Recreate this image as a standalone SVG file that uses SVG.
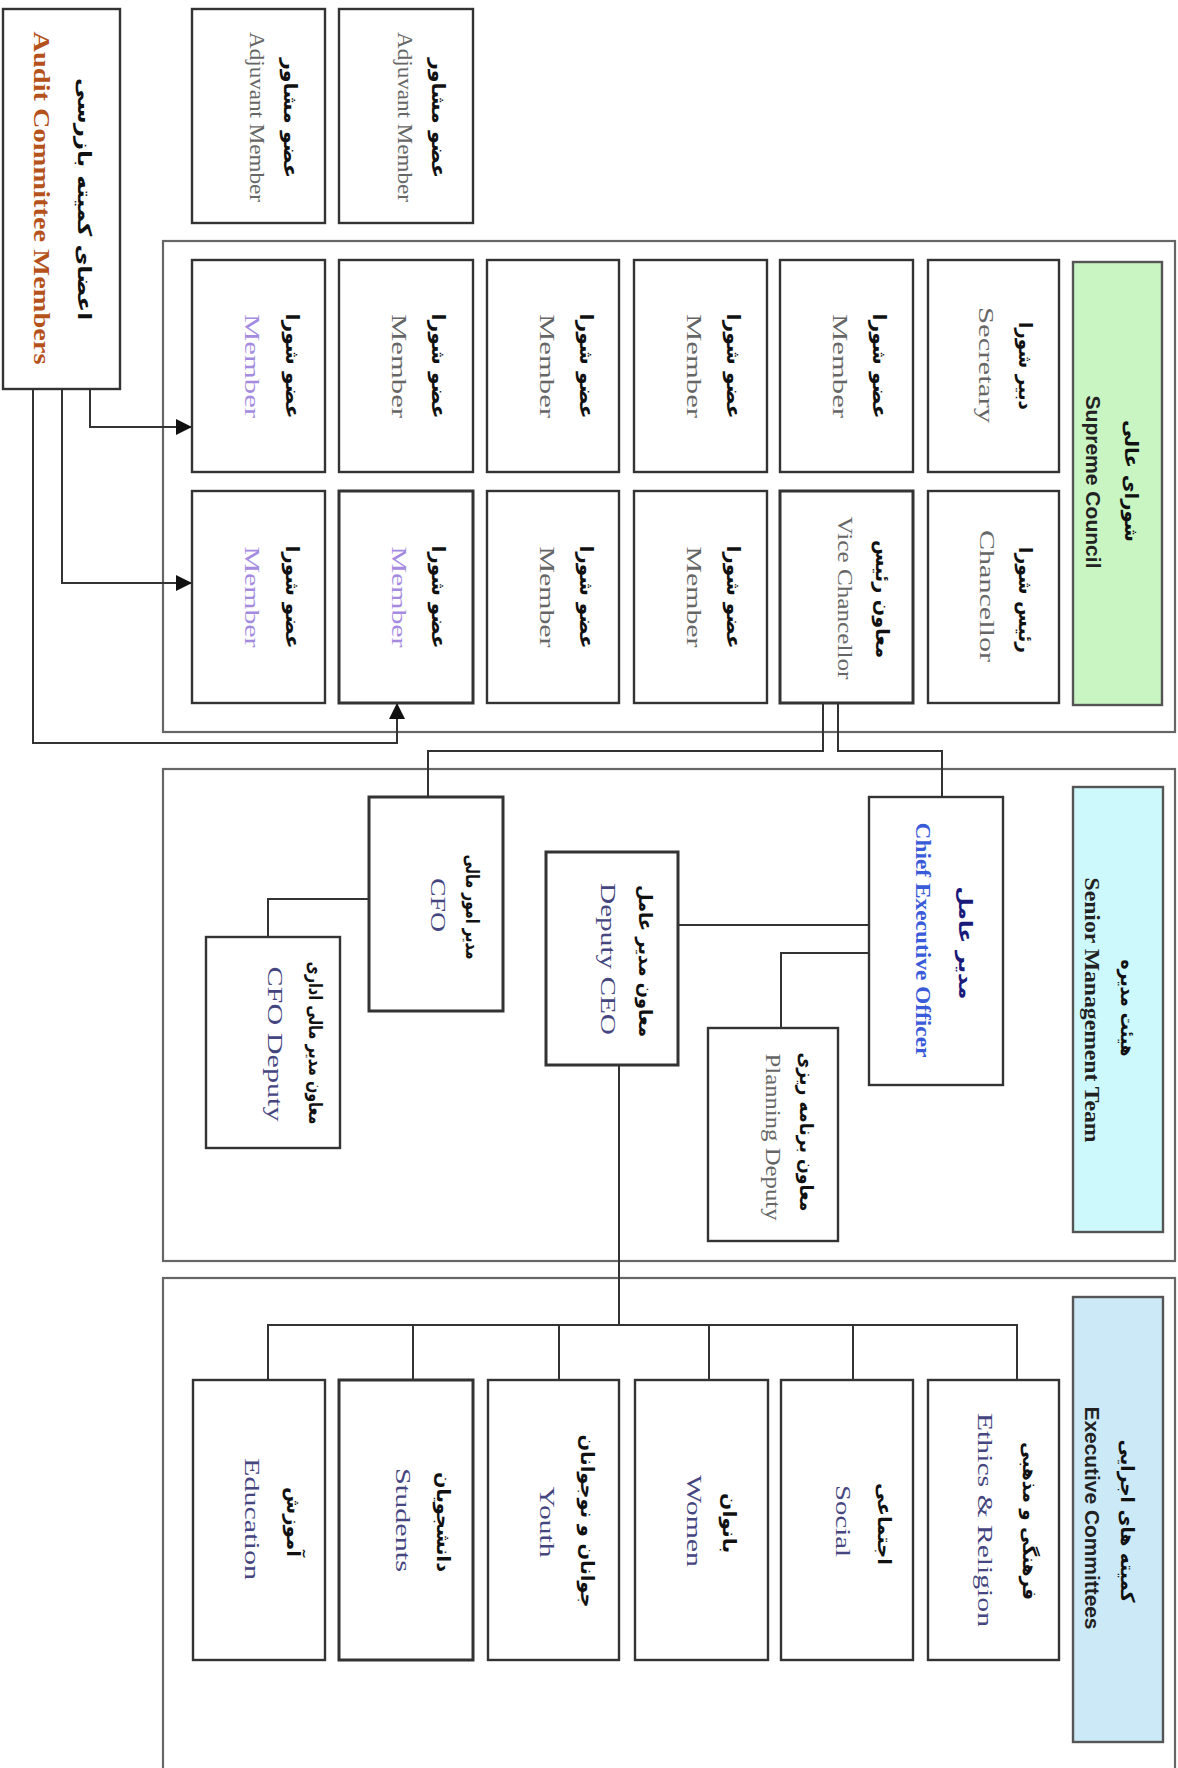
<svg xmlns="http://www.w3.org/2000/svg" width="1178" height="1768" viewBox="0 0 1178 1768">
<style>
.box{fill:#fff;stroke:#333;stroke-width:2.4}
.thick{stroke-width:3}
.cont{fill:#fff;stroke:#666;stroke-width:2.2}
.hg{fill:#c9f5c3;stroke:#555;stroke-width:2.4}
.hc{fill:#cdf9fc;stroke:#555;stroke-width:2.4}
.hb{fill:#cce9f8;stroke:#555;stroke-width:2.4}
.fa{font-family:"DejaVu Sans",sans-serif;font-weight:bold;font-size:19px;fill:#111}
.en{font-family:"Liberation Serif",serif;font-size:22px;fill:#666}
.pu{fill:#a58be0}
.sl{fill:#45457f}
.hd{font-family:"Liberation Sans",sans-serif;font-weight:bold;font-size:20px;fill:#222}
.conn{fill:none;stroke:#333;stroke-width:2}
</style>
<defs>
<marker id="arr" markerWidth="16" markerHeight="16" refX="16" refY="8" orient="auto" markerUnits="userSpaceOnUse">
<path d="M0,0 L16,8 L0,16 z" fill="#111"/>
</marker>
</defs>
<rect width="1178" height="1768" fill="#fff"/>

<!-- containers -->
<g id="supreme-council">
<rect class="cont" x="163" y="241" width="1012" height="491"/>
</g>
<g id="senior-management">
<rect class="cont" x="163" y="769" width="1012" height="492"/>
</g>
<g id="executive-committees">
<rect class="cont" x="163" y="1278" width="1012" height="520"/>
</g>

<!-- connectors -->
<g id="connectors">
<path class="conn" d="M90,389 V427 H192" marker-end="url(#arr)"/>
<path class="conn" d="M62,389 V583 H192" marker-end="url(#arr)"/>
<path class="conn" d="M33,389 V743 H397 V703" marker-end="url(#arr)"/>
<path class="conn" d="M823,703 V751 H428 V797"/>
<path class="conn" d="M838,703 V751 H942 V797"/>
<path class="conn" d="M869,925 H678"/>
<path class="conn" d="M869,953 H781 V1028"/>
<path class="conn" d="M369,899 H268 V937"/>
<path class="conn" d="M619,1065 V1325"/>
<path class="conn" d="M268,1380 V1325 H1017 V1380"/>
<path class="conn" d="M413,1325 V1380"/>
<path class="conn" d="M559,1325 V1380"/>
<path class="conn" d="M709,1325 V1380"/>
<path class="conn" d="M853,1325 V1380"/>
</g>

<!-- audit & adjuvant -->
<g id="audit-committee">
<rect class="box" x="3" y="9" width="117" height="380"/>
<text class="fa" transform="translate(78,199) rotate(90)" text-anchor="middle" textLength="242" lengthAdjust="spacingAndGlyphs">اعضای کمیته بازرسی</text>
<text transform="translate(34,198) rotate(90)" text-anchor="middle" textLength="333" lengthAdjust="spacingAndGlyphs" style="font-family:'Liberation Serif',serif;font-weight:bold;font-size:23px;fill:#b5521b">Audit Committee Members</text>
</g>
<g id="adjuvant-1">
<rect class="box" x="192" y="9" width="133" height="214"/>
<text class="fa" transform="translate(284,118) rotate(90)" text-anchor="middle" textLength="120" lengthAdjust="spacingAndGlyphs">عضو مشاور</text>
<text class="en" transform="translate(250,117) rotate(90)" text-anchor="middle" textLength="170" lengthAdjust="spacingAndGlyphs">Adjuvant Member</text>
</g>
<g id="adjuvant-2">
<rect class="box" x="339" y="9" width="134" height="214"/>
<text class="fa" transform="translate(432,118) rotate(90)" text-anchor="middle" textLength="120" lengthAdjust="spacingAndGlyphs">عضو مشاور</text>
<text class="en" transform="translate(398,117) rotate(90)" text-anchor="middle" textLength="170" lengthAdjust="spacingAndGlyphs">Adjuvant Member</text>
</g>

<!-- supreme council nodes -->
<g id="sc-header">
<rect class="hg" x="1073" y="262" width="89" height="443"/>
<text class="fa" transform="translate(1125,481) rotate(90)" text-anchor="middle" textLength="122" lengthAdjust="spacingAndGlyphs">شورای عالی</text>
<text class="hd" transform="translate(1086,482) rotate(90)" text-anchor="middle" textLength="173" lengthAdjust="spacingAndGlyphs">Supreme Council</text>
</g>
<g id="secretary">
<rect class="box" x="928" y="260" width="131" height="212"/>
<text class="fa" transform="translate(1019,366) rotate(90)" text-anchor="middle" textLength="88" lengthAdjust="spacingAndGlyphs">دبیر شورا</text>
<text class="en" transform="translate(979,365) rotate(90)" text-anchor="middle" textLength="116" lengthAdjust="spacingAndGlyphs">Secretary</text>
</g>
<g id="chancellor">
<rect class="box" x="928" y="491" width="131" height="212"/>
<text class="fa" transform="translate(1019,600) rotate(90)" text-anchor="middle" textLength="106" lengthAdjust="spacingAndGlyphs">رئیس شورا</text>
<text class="en" transform="translate(980,596) rotate(90)" text-anchor="middle" textLength="132" lengthAdjust="spacingAndGlyphs">Chancellor</text>
</g>
<g id="member-5a">
<rect class="box" x="780" y="260" width="133" height="212"/>
<text class="fa" transform="translate(873,366) rotate(90)" text-anchor="middle" textLength="105" lengthAdjust="spacingAndGlyphs">عضو شورا</text>
<text class="en" transform="translate(833,366) rotate(90)" text-anchor="middle" textLength="104" lengthAdjust="spacingAndGlyphs">Member</text>
</g>
<g id="vice-chancellor">
<rect class="box thick" x="780" y="491" width="133" height="212"/>
<text class="fa" transform="translate(876,599) rotate(90)" text-anchor="middle" textLength="118" lengthAdjust="spacingAndGlyphs">معاون رئیس</text>
<text class="en" transform="translate(838,598) rotate(90)" text-anchor="middle" textLength="163" lengthAdjust="spacingAndGlyphs">Vice Chancellor</text>
</g>
<g id="member-4a">
<rect class="box" x="634" y="260" width="133" height="212"/>
<text class="fa" transform="translate(727,366) rotate(90)" text-anchor="middle" textLength="105" lengthAdjust="spacingAndGlyphs">عضو شورا</text>
<text class="en" transform="translate(687,366) rotate(90)" text-anchor="middle" textLength="104" lengthAdjust="spacingAndGlyphs">Member</text>
</g>
<g id="member-4b">
<rect class="box" x="634" y="491" width="133" height="212"/>
<text class="fa" transform="translate(727,597) rotate(90)" text-anchor="middle" textLength="103" lengthAdjust="spacingAndGlyphs">عضو شورا</text>
<text class="en" transform="translate(687,597) rotate(90)" text-anchor="middle" textLength="101" lengthAdjust="spacingAndGlyphs">Member</text>
</g>
<g id="member-3a">
<rect class="box" x="487" y="260" width="132" height="212"/>
<text class="fa" transform="translate(580,366) rotate(90)" text-anchor="middle" textLength="105" lengthAdjust="spacingAndGlyphs">عضو شورا</text>
<text class="en" transform="translate(540,366) rotate(90)" text-anchor="middle" textLength="104" lengthAdjust="spacingAndGlyphs">Member</text>
</g>
<g id="member-3b">
<rect class="box" x="487" y="491" width="132" height="212"/>
<text class="fa" transform="translate(580,597) rotate(90)" text-anchor="middle" textLength="103" lengthAdjust="spacingAndGlyphs">عضو شورا</text>
<text class="en" transform="translate(540,597) rotate(90)" text-anchor="middle" textLength="101" lengthAdjust="spacingAndGlyphs">Member</text>
</g>
<g id="member-2a">
<rect class="box" x="339" y="260" width="134" height="212"/>
<text class="fa" transform="translate(432,366) rotate(90)" text-anchor="middle" textLength="105" lengthAdjust="spacingAndGlyphs">عضو شورا</text>
<text class="en" transform="translate(392,366) rotate(90)" text-anchor="middle" textLength="104" lengthAdjust="spacingAndGlyphs">Member</text>
</g>
<g id="member-2b">
<rect class="box thick" x="339" y="491" width="134" height="212"/>
<text class="fa" transform="translate(432,597) rotate(90)" text-anchor="middle" textLength="103" lengthAdjust="spacingAndGlyphs">عضو شورا</text>
<text class="en pu" transform="translate(392,597) rotate(90)" text-anchor="middle" textLength="101" lengthAdjust="spacingAndGlyphs">Member</text>
</g>
<g id="member-1a">
<rect class="box" x="192" y="260" width="133" height="212"/>
<text class="fa" transform="translate(286,366) rotate(90)" text-anchor="middle" textLength="105" lengthAdjust="spacingAndGlyphs">عضو شورا</text>
<text class="en pu" transform="translate(245,366) rotate(90)" text-anchor="middle" textLength="104" lengthAdjust="spacingAndGlyphs">Member</text>
</g>
<g id="member-1b">
<rect class="box" x="192" y="491" width="133" height="212"/>
<text class="fa" transform="translate(286,597) rotate(90)" text-anchor="middle" textLength="103" lengthAdjust="spacingAndGlyphs">عضو شورا</text>
<text class="en pu" transform="translate(245,597) rotate(90)" text-anchor="middle" textLength="101" lengthAdjust="spacingAndGlyphs">Member</text>
</g>

<!-- senior management nodes -->
<g id="smt-header">
<rect class="hc" x="1073" y="787" width="90" height="445"/>
<text class="fa" transform="translate(1121,1008) rotate(90)" text-anchor="middle" textLength="97" lengthAdjust="spacingAndGlyphs">هیئت مدیره</text>
<text transform="translate(1085,1010) rotate(90)" text-anchor="middle" textLength="265" lengthAdjust="spacingAndGlyphs" style="font-family:'Liberation Serif',serif;font-weight:bold;font-size:20px;fill:#222">Senior Management Team</text>
</g>
<g id="ceo">
<rect class="box" x="869" y="797" width="134" height="288"/>
<text class="fa" transform="translate(959,943) rotate(90)" text-anchor="middle" textLength="113" lengthAdjust="spacingAndGlyphs" style="fill:#1a1a7a">مدیر عامل</text>
<text transform="translate(916,940) rotate(90)" text-anchor="middle" textLength="235" lengthAdjust="spacingAndGlyphs" style="font-family:'Liberation Serif',serif;font-weight:bold;font-size:20px;fill:#3a5bd9">Chief Executive Officer</text>
</g>
<g id="deputy-ceo">
<rect class="box thick" x="546" y="852" width="132" height="213"/>
<text class="fa" transform="translate(639,961) rotate(90)" text-anchor="middle" textLength="152" lengthAdjust="spacingAndGlyphs">معاون مدیر عامل</text>
<text class="en sl" transform="translate(601,959) rotate(90)" text-anchor="middle" textLength="152" lengthAdjust="spacingAndGlyphs">Deputy CEO</text>
</g>
<g id="planning-deputy">
<rect class="box" x="708" y="1028" width="130" height="213"/>
<text class="fa" transform="translate(800,1132) rotate(90)" text-anchor="middle" textLength="159" lengthAdjust="spacingAndGlyphs">معاون برنامه ریزی</text>
<text class="en" transform="translate(766,1137) rotate(90)" text-anchor="middle" textLength="167" lengthAdjust="spacingAndGlyphs">Planning Deputy</text>
</g>
<g id="cfo">
<rect class="box thick" x="369" y="797" width="134" height="214"/>
<text class="fa" transform="translate(466,907) rotate(90)" text-anchor="middle" textLength="105" lengthAdjust="spacingAndGlyphs">مدیر امور مالی</text>
<text class="en sl" transform="translate(431,905) rotate(90)" text-anchor="middle" textLength="54" lengthAdjust="spacingAndGlyphs">CFO</text>
</g>
<g id="cfo-deputy">
<rect class="box" x="206" y="937" width="134" height="211"/>
<text class="fa" transform="translate(309,1043) rotate(90)" text-anchor="middle" textLength="163" lengthAdjust="spacingAndGlyphs">معاون مدیر مالی اداری</text>
<text class="en sl" transform="translate(268,1044) rotate(90)" text-anchor="middle" textLength="155" lengthAdjust="spacingAndGlyphs">CFO Deputy</text>
</g>

<!-- executive committees nodes -->
<g id="ec-header">
<rect class="hb" x="1073" y="1297" width="90" height="445"/>
<text class="fa" transform="translate(1121,1521) rotate(90)" text-anchor="middle" textLength="163" lengthAdjust="spacingAndGlyphs">کمیته های اجرایی</text>
<text class="hd" transform="translate(1085,1518) rotate(90)" text-anchor="middle" textLength="223" lengthAdjust="spacingAndGlyphs">Executive Committees</text>
</g>
<g id="ethics-religion">
<rect class="box" x="928" y="1380" width="131" height="280"/>
<text class="fa" transform="translate(1023,1521) rotate(90)" text-anchor="middle" textLength="158" lengthAdjust="spacingAndGlyphs">فرهنگی و مذهبی</text>
<text class="en sl" transform="translate(978,1520) rotate(90)" text-anchor="middle" textLength="214" lengthAdjust="spacingAndGlyphs">Ethics &amp; Religion</text>
</g>
<g id="social">
<rect class="box" x="781" y="1380" width="132" height="280"/>
<text class="fa" transform="translate(878,1524) rotate(90)" text-anchor="middle" textLength="82" lengthAdjust="spacingAndGlyphs">اجتماعی</text>
<text class="en sl" transform="translate(836,1521) rotate(90)" text-anchor="middle" textLength="72" lengthAdjust="spacingAndGlyphs">Social</text>
</g>
<g id="women">
<rect class="box" x="635" y="1380" width="133" height="280"/>
<text class="fa" transform="translate(723,1523) rotate(90)" text-anchor="middle" textLength="60" lengthAdjust="spacingAndGlyphs">بانوان</text>
<text class="en sl" transform="translate(687,1521) rotate(90)" text-anchor="middle" textLength="92" lengthAdjust="spacingAndGlyphs">Women</text>
</g>
<g id="youth">
<rect class="box" x="488" y="1380" width="131" height="280"/>
<text class="fa" transform="translate(581,1521) rotate(90)" text-anchor="middle" textLength="173" lengthAdjust="spacingAndGlyphs">جوانان و نوجوانان</text>
<text class="en sl" transform="translate(540,1522) rotate(90)" text-anchor="middle" textLength="71" lengthAdjust="spacingAndGlyphs">Youth</text>
</g>
<g id="students">
<rect class="box thick" x="339" y="1380" width="134" height="280"/>
<text class="fa" transform="translate(437,1522) rotate(90)" text-anchor="middle" textLength="100" lengthAdjust="spacingAndGlyphs">دانشجویان</text>
<text class="en sl" transform="translate(396,1520) rotate(90)" text-anchor="middle" textLength="104" lengthAdjust="spacingAndGlyphs">Students</text>
</g>
<g id="education">
<rect class="box" x="193" y="1380" width="132" height="280"/>
<text class="fa" transform="translate(287,1522) rotate(90)" text-anchor="middle" textLength="70" lengthAdjust="spacingAndGlyphs">آموزش</text>
<text class="en sl" transform="translate(245,1519) rotate(90)" text-anchor="middle" textLength="122" lengthAdjust="spacingAndGlyphs">Education</text>
</g>
</svg>
